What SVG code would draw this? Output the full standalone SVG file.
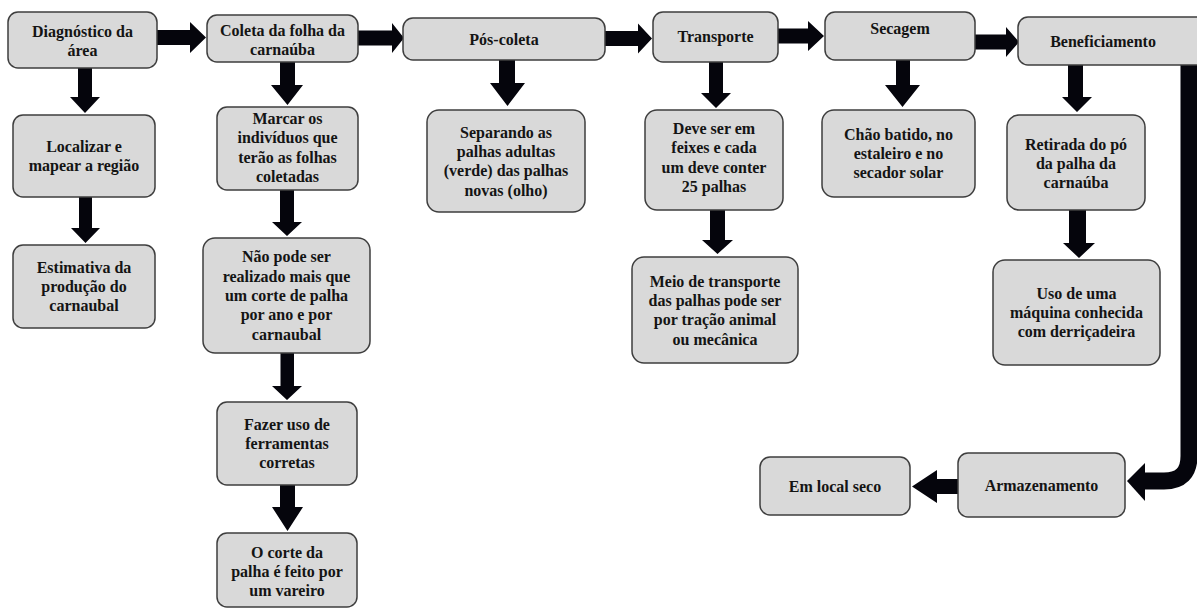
<svg xmlns="http://www.w3.org/2000/svg" width="1197" height="610" viewBox="0 0 1197 610">
<style>
.box{fill:#d9d9d9;stroke:#3e3e3e;stroke-width:1.5}
.t{font-family:'Liberation Serif','DejaVu Serif',Tinos,serif;font-weight:bold;font-size:16px;fill:#141414;text-anchor:middle}
.arr{fill:#05050c}
.bar{fill:none;stroke:#05050c;stroke-width:17}
</style>
<rect width="1197" height="610" fill="#ffffff"/>
<g id="connectors">
<polygon class="arr" points="157,30 190,30 190,22 206,37.5 190,53 190,45 157,45"/>
<polygon class="arr" points="358,30.5 392,30.5 392,23 404,38 392,53 392,45.5 358,45.5"/>
<polygon class="arr" points="605,31 638,31 638,23.5 652,38.5 638,53.5 638,46 605,46"/>
<polygon class="arr" points="778,28.5 808,28.5 808,21 824,36 808,51 808,43.5 778,43.5"/>
<polygon class="arr" points="975,34.5 1006,34.5 1006,27 1019,42 1006,57 1006,49.5 975,49.5"/>
<polygon class="arr" points="958,479 937,479 937,470 912,486.5 937,503 937,494 958,494"/>
<polygon class="arr" points="78,68 92,68 92,97 100,97 85,113 70,97 78,97"/>
<polygon class="arr" points="79,197 92,197 92,228 100,228 85.5,243 71,228 79,228"/>
<polygon class="arr" points="280,62 295,62 295,85 303,85 287.5,105 271,85 280,85"/>
<polygon class="arr" points="280,190 294,190 294,222 302,222 287,236 272,222 280,222"/>
<polygon class="arr" points="280.5,353 294,353 294,386 302,386 287,400 272,386 280.5,386"/>
<polygon class="arr" points="280,485 295,485 295,507 303,507 287.5,531 272,507 280,507"/>
<polygon class="arr" points="499,60 515,60 515,83 525,83 507.5,106 490,83 499,83"/>
<polygon class="arr" points="709,62 723,62 723,93 731,93 716,108 701,93 709,93"/>
<polygon class="arr" points="710,210 725,210 725,240 733,240 717.5,254 702,240 710,240"/>
<polygon class="arr" points="896,60 910,60 910,85 920,85 902.5,107 885,85 896,85"/>
<polygon class="arr" points="1068,65 1083,65 1083,97 1092,97 1077,112 1062,97 1068,97"/>
<polygon class="arr" points="1069,210 1086,210 1086,243 1095,243 1079,258 1063,243 1069,243"/>
<path class="bar" d="M1189,65 V456 Q1189,481 1164,481 H1143"/>
<polygon class="arr" points="1145,463 1127,481 1145,501"/>
</g>
<g id="n1"><rect class="box" x="8" y="12" width="149" height="56" rx="10"/><text class="t"><tspan x="82.5" y="37">Diagnóstico da</tspan><tspan x="82.5" y="56">área</tspan></text></g>
<g id="n2"><rect class="box" x="207" y="15" width="151" height="47" rx="10"/><text class="t"><tspan x="282.5" y="36">Coleta da folha da</tspan><tspan x="282.5" y="55">carnaúba</tspan></text></g>
<g id="n3"><rect class="box" x="403" y="18" width="202" height="42" rx="10"/><text class="t" x="504" y="44.5">Pós-coleta</text></g>
<g id="n4"><rect class="box" x="653" y="12" width="125" height="50" rx="10"/><text class="t" x="715.5" y="42">Transporte</text></g>
<g id="n5"><rect class="box" x="825" y="12" width="150" height="48" rx="10"/><text class="t" x="900" y="34">Secagem</text></g>
<g id="n6"><rect class="box" x="1018" y="17" width="200" height="48" rx="10"/><text class="t" x="1103" y="47">Beneficiamento</text></g>
<g id="n7"><rect class="box" x="13" y="115" width="142" height="82" rx="10"/><text class="t"><tspan x="84" y="151.9">Localizar e</tspan><tspan x="84" y="171.2">mapear a região</tspan></text></g>
<g id="n8"><rect class="box" x="13" y="245" width="142" height="83" rx="10"/><text class="t"><tspan x="84" y="272.7">Estimativa da</tspan><tspan x="84" y="292">produção do</tspan><tspan x="84" y="311.3">carnaubal</tspan></text></g>
<g id="n9"><rect class="box" x="217" y="107" width="141" height="83" rx="10"/><text class="t"><tspan x="287.5" y="124">Marcar os</tspan><tspan x="287.5" y="143.3">indivíduos que</tspan><tspan x="287.5" y="162.6">terão as folhas</tspan><tspan x="287.5" y="181.9">coletadas</tspan></text></g>
<g id="n10"><rect class="box" x="203" y="238" width="167" height="115" rx="12"/><text class="t"><tspan x="286.5" y="262.4">Não pode ser</tspan><tspan x="286.5" y="281.7">realizado mais que</tspan><tspan x="286.5" y="301">um corte de palha</tspan><tspan x="286.5" y="320.3">por ano e por</tspan><tspan x="286.5" y="339.6">carnaubal</tspan></text></g>
<g id="n11"><rect class="box" x="217" y="402" width="140" height="83" rx="10"/><text class="t"><tspan x="287" y="429.7">Fazer uso de</tspan><tspan x="287" y="449">ferramentas</tspan><tspan x="287" y="468.3">corretas</tspan></text></g>
<g id="n12"><rect class="box" x="217" y="533" width="140" height="74" rx="10"/><text class="t"><tspan x="287" y="557.5">O corte da</tspan><tspan x="287" y="577">palha é feito por</tspan><tspan x="287" y="596">um vareiro</tspan></text></g>
<g id="n13"><rect class="box" x="427" y="110" width="158" height="102" rx="12"/><text class="t"><tspan x="506" y="137.6">Separando as</tspan><tspan x="506" y="156.9">palhas adultas</tspan><tspan x="506" y="176.2">(verde) das palhas</tspan><tspan x="506" y="195.5">novas (olho)</tspan></text></g>
<g id="n14"><rect class="box" x="645" y="110" width="138" height="100" rx="12"/><text class="t"><tspan x="714" y="134">Deve ser em</tspan><tspan x="714" y="153.3">feixes e cada</tspan><tspan x="714" y="172.6">um deve conter</tspan><tspan x="714" y="191.9">25 palhas</tspan></text></g>
<g id="n15"><rect class="box" x="632" y="257" width="166" height="106" rx="12"/><text class="t"><tspan x="715" y="286.6">Meio de transporte</tspan><tspan x="715" y="305.9">das palhas pode ser</tspan><tspan x="715" y="325.2">por tração animal</tspan><tspan x="715" y="344.5">ou mecânica</tspan></text></g>
<g id="n16"><rect class="box" x="822" y="110" width="153" height="87" rx="12"/><text class="t"><tspan x="898.5" y="139.7">Chão batido, no</tspan><tspan x="898.5" y="159">estaleiro e no</tspan><tspan x="898.5" y="178.3">secador solar</tspan></text></g>
<g id="n17"><rect class="box" x="1007" y="115" width="138" height="95" rx="12"/><text class="t"><tspan x="1076" y="149.5">Retirada do pó</tspan><tspan x="1076" y="168.8">da palha da</tspan><tspan x="1076" y="188.1">carnaúba</tspan></text></g>
<g id="n18"><rect class="box" x="993" y="260" width="167" height="105" rx="12"/><text class="t"><tspan x="1076.5" y="298.7">Uso de uma</tspan><tspan x="1076.5" y="318">máquina conhecida</tspan><tspan x="1076.5" y="337.3">com derriçadeira</tspan></text></g>
<g id="n19"><rect class="box" x="958" y="453" width="167" height="64" rx="10"/><text class="t" x="1041.5" y="490.5">Armazenamento</text></g>
<g id="n20"><rect class="box" x="760" y="457" width="150" height="58" rx="10"/><text class="t" x="835" y="491.5">Em local seco</text></g>
</svg>
